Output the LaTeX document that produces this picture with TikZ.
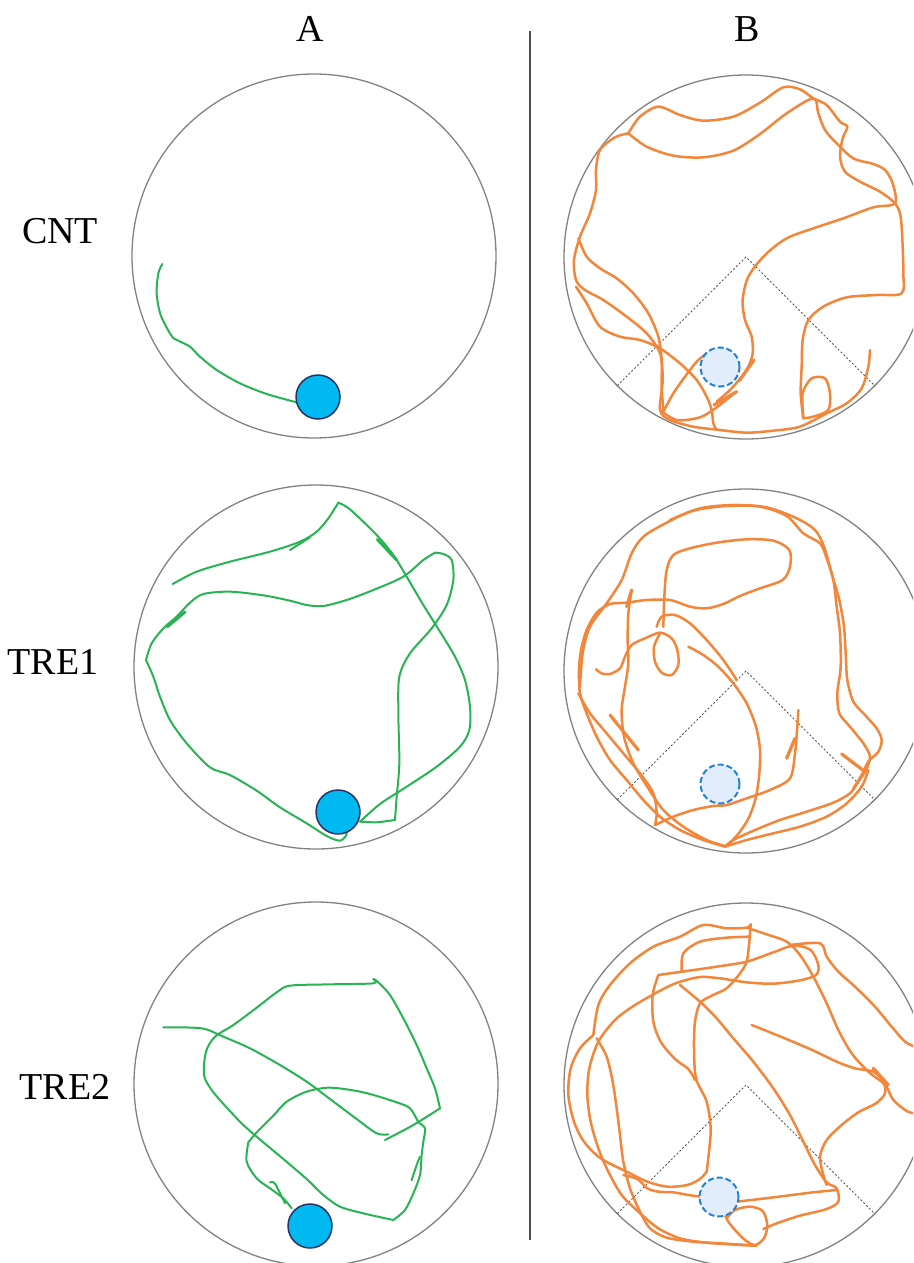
\documentclass[tikz,border=0pt]{standalone}
\usepackage{fontspec}
\setmainfont{Liberation Serif}
\definecolor{trackgreen}{RGB}{40,180,85}
\definecolor{trackorange}{RGB}{242,135,60}
\definecolor{ballblue}{RGB}{0,185,240}
\definecolor{balledge}{RGB}{40,50,100}
\definecolor{goalfill}{RGB}{225,237,250}
\definecolor{goaledge}{RGB}{40,130,210}
\definecolor{arenagray}{RGB}{130,130,130}
\begin{document}
\begin{tikzpicture}[x=1pt,y=-1pt,
  arena/.style={draw=arenagray,line width=1.3pt},
  gtrack/.style={draw=trackgreen,line width=2pt,line cap=round,line join=round},
  otrack/.style={draw=trackorange,line width=2.5pt,line cap=round,line join=round},
  ball/.style={fill=ballblue,draw=balledge,line width=1.5pt},
  goal/.style={fill=goalfill,draw=goaledge,line width=2pt,dash pattern=on 6pt off 3pt},
  quad/.style={draw=black!65,line width=0.9pt,dash pattern=on 2pt off 2pt},
  lbl/.style={font=\fontsize{38}{40}\selectfont,inner sep=0pt}]
\clip (0,0) rectangle (913,1263);
\fill[white] (0,0) rectangle (913,1263);

% labels
\node[lbl] (hA) at (310,29) {A};
\node[lbl] (hB) at (747,29) {B};
\node[lbl] (lCNT) at (60,231) {CNT};
\node[lbl] (lTRE1) at (53,662) {TRE1};
\node[lbl] (lTRE2) at (65,1087) {TRE2};

% separator
\coordinate (sepTop) at (530,31);
\coordinate (sepBot) at (530,1240);
\draw[draw=black!70,line width=1.5pt] (sepTop) -- (sepBot);

% arena centres
\coordinate (a1) at (314,256);
\coordinate (a2) at (316,667);
\coordinate (a3) at (316,1084);
\coordinate (b1) at (746,257);
\coordinate (b2) at (746,671);
\coordinate (b3) at (746,1085);

\foreach \c in {a1,a2,a3,b1,b2,b3} {\draw[arena] (\c) circle (182);}
\foreach \c in {b1,b2,b3} {
  \draw[quad] (\c) ++(135:182) -- (\c) -- ++(45:182);
}

% ---------- A / CNT ----------
\begin{scope}[shift={(130,60)},scale=0.33333]
\draw[gtrack] plot[smooth,tension=0.5] coordinates {(97,612) (85,640) (80,700) (92,765) (125,828) (145,842) (180,860) (210,890) (260,930) (330,970) (410,1002) (500,1027)};
\end{scope}

% ---------- A / TRE1 ----------
\begin{scope}[shift={(130,480)},scale=0.33333]
\draw[gtrack] plot[smooth,tension=0.5] coordinates {(128,312) (200,275) (300,245) (420,215) (510,185) (560,155) (595,115) (625,68)};
\draw[gtrack] plot[smooth,tension=0.5] coordinates {(625,68) (660,88) (740,165) (790,225) (830,290) (880,375) (930,455) (975,530) (1005,600) (1020,680) (1018,750) (990,800) (920,860) (830,920) (750,972) (690,1025)};
\draw[gtrack] plot[smooth,tension=0.3] coordinates {(690,1025) (740,1027) (795,1020)};
\draw[gtrack] plot[smooth,tension=0.5] coordinates {(795,1020) (800,950) (808,850) (805,700) (808,590) (840,520) (905,445) (950,375) (970,300) (965,240) (940,222) (915,218)};
\draw[gtrack] plot[smooth,tension=0.5] coordinates {(915,218) (880,240) (820,290) (730,330) (650,360) (580,378) (530,375) (480,362) (400,346) (300,335) (220,342) (180,368) (140,410) (100,445) (65,490) (48,540)};
\draw[gtrack] plot[smooth,tension=0.5] coordinates {(48,540) (70,590) (90,650) (120,720) (170,790) (240,862) (300,885) (380,932) (450,982) (530,1030) (590,1068) (630,1082) (650,1062) (642,1040)};
\draw[gtrack] (480,210) -- (540,172);
\draw[gtrack,line width=3pt] (742,178) -- (800,240);
\draw[gtrack,line width=3pt] (112,440) -- (165,396);
\end{scope}

% ---------- A / TRE2 ----------
\begin{scope}[shift={(130,895)},scale=0.33333]
\draw[gtrack] plot[smooth,tension=0.5] coordinates {(100,397) (215,400) (280,425) (360,460) (450,510) (530,560) (600,612) (680,672) (740,715) (775,718)};
\draw[gtrack] plot[smooth,tension=0.5] coordinates {(765,735) (850,690) (930,640)};
\draw[gtrack] plot[smooth,tension=0.5] coordinates {(930,640) (915,580) (890,520) (860,450) (820,370) (780,300) (745,262) (730,252)};
\draw[gtrack] plot[smooth,tension=0.5] coordinates {(730,252) (730,265) (600,268) (480,272) (440,292) (380,338) (310,390) (255,425) (228,470) (222,540) (245,585) (285,632) (340,690) (400,742) (460,792) (530,852) (580,900) (630,935) (700,955) (790,975)};
\draw[gtrack] plot[smooth,tension=0.5] coordinates {(790,975) (825,945) (850,895) (870,840) (875,780) (880,740) (885,700) (865,682)};
\draw[gtrack] plot[smooth,tension=0.5] coordinates {(865,682) (840,640) (800,622) (700,592) (600,578) (530,590) (470,620) (430,662) (380,712) (355,742)};
\draw[gtrack] plot[smooth,tension=0.5] coordinates {(355,742) (350,800) (380,850) (420,880) (460,910) (485,940)};
\draw[gtrack] plot[smooth,tension=0.5] coordinates {(845,855) (860,810) (870,785)};
\draw[gtrack] plot[smooth,tension=0.5] coordinates {(420,862) (435,866) (465,925)};
\end{scope}

% balls
\node[ball,circle,minimum size=44pt,inner sep=0pt] (ballA1) at (318,397) {};
\node[ball,circle,minimum size=44pt,inner sep=0pt] (ballA2) at (338,812) {};
\node[ball,circle,minimum size=44pt,inner sep=0pt] (ballA3) at (310,1226) {};

% ---------- B / CNT ----------
\begin{scope}[shift={(560,60)},scale=0.33333]
\draw[otrack] plot[smooth,tension=0.5] coordinates {(205,220) (240,170) (295,140) (360,165) (430,182) (520,170) (600,128) (670,82) (720,88) (760,115) (800,135) (840,185) (862,200) (848,235) (840,290) (855,335) (900,365) (960,395) (1005,430) (1022,470) (1028,560) (1030,640) (1025,700) (950,705) (860,712) (790,740) (745,780) (728,840) (725,920) (722,1000) (730,1075)};
\draw[otrack] plot[smooth,tension=0.5] coordinates {(205,220) (260,260) (340,287) (430,292) (520,272) (600,222) (680,160) (760,115) (775,160) (795,210) (830,250) (880,295) (940,312) (975,330) (998,370) (1005,430) (940,442) (850,475) (760,505) (680,535) (615,585) (565,650) (548,720) (555,780) (575,830) (578,880) (565,920) (545,950) (510,990) (470,1025)};
\draw[otrack] plot[smooth,tension=0.5] coordinates {(205,220) (165,232) (120,270) (108,330) (108,390) (90,460) (60,530) (42,600) (48,660) (75,690) (130,720) (200,770) (260,820) (300,880) (308,960) (300,1050) (330,1080) (400,1100) (480,1110) (560,1118) (640,1112) (720,1100) (800,1060) (860,1030) (905,985) (925,920) (930,870)};
\draw[otrack] plot[smooth,tension=0.5] coordinates {(55,535) (80,590) (120,625) (170,655) (220,700) (265,760) (295,830) (305,900) (305,980) (310,1050)};
\draw[otrack] plot[smooth,tension=0.5] coordinates {(48,680) (80,730) (120,800) (180,830) (240,840) (300,865) (360,910) (410,960) (440,1010) (455,1050) (460,1090) (470,1110)};
\draw[otrack] plot[smooth,tension=0.5] coordinates {(310,1055) (340,1000) (375,950) (410,905) (440,880)};
\draw[otrack] plot[smooth,tension=0.5] coordinates {(300,1050) (350,1080) (420,1072) (470,1042) (520,1002)};
\draw[otrack,line width=3.2pt] (462,1035) -- (530,995);
\draw[otrack,line width=3.2pt] (538,962) -- (582,900);
\draw[otrack] plot[smooth,tension=0.5] coordinates {(730,1075) (728,1000) (755,955) (795,955) (810,1000) (805,1050) (760,1070) (730,1075)};
\end{scope}

% ---------- B / TRE1 ----------
\begin{scope}[shift={(560,480)},scale=0.33333]
\draw[otrack] plot[smooth,tension=0.5] coordinates {(60,620) (68,520) (90,440) (140,370) (185,300) (215,220) (250,170) (320,128) (400,92) (500,78) (600,80) (680,108) (730,160) (780,190) (800,235) (820,300) (830,380) (840,460) (842,560) (832,640) (838,700) (870,740) (910,790) (930,830) (918,870) (895,905) (870,940) (820,968) (740,995) (660,1020) (590,1048) (520,1080) (495,1100)};
\draw[otrack] plot[smooth,tension=0.5] coordinates {(330,120) (420,85) (520,75) (620,82) (710,115) (765,150) (792,200) (815,280) (838,360) (852,440) (857,520) (862,600) (880,665) (915,705) (950,745) (965,780) (955,815) (925,845) (905,885) (880,925)};
\draw[otrack] plot[smooth,tension=0.5] coordinates {(310,440) (313,350) (320,270) (340,225) (390,205) (470,188) (560,178) (640,182) (688,210) (690,260) (668,300) (600,325) (540,348) (490,372) (440,385) (390,380) (330,360) (260,360) (200,368) (150,372) (110,398) (80,450) (63,510) (57,570) (60,640) (80,700) (110,770) (150,840) (200,900) (250,960) (300,1010) (360,1050) (430,1080) (495,1100)};
\draw[otrack] plot[smooth,tension=0.5] coordinates {(300,460) (282,500) (285,545) (305,578) (335,585) (355,555) (352,510) (335,475) (300,458) (255,475) (215,495) (195,530) (180,565) (150,582) (125,580) (108,568)};
\draw[otrack] plot[smooth,tension=0.5] coordinates {(215,330) (205,400) (203,480) (205,550) (195,620) (185,690) (192,770) (220,850) (265,925) (310,990) (370,1040) (440,1080) (495,1098)};
\draw[otrack] plot[smooth,tension=0.5] coordinates {(385,500) (430,525) (475,560) (520,610) (560,670) (588,740) (600,810) (598,880) (588,950) (568,1010) (540,1055) (505,1095)};
\draw[otrack] plot[smooth,tension=0.5] coordinates {(290,440) (305,410) (345,405) (390,430) (440,480) (490,540) (530,600)};
\draw[otrack,line width=3.2pt] (150,705) -- (235,810);
\draw[otrack] plot[smooth,tension=0.5] coordinates {(55,640) (90,700) (140,760) (190,820) (240,880) (280,940) (290,1000) (285,1035)};
\draw[otrack] plot[smooth,tension=0.5] coordinates {(285,1035) (340,1010) (400,990) (460,978) (500,975) (560,955) (630,930) (690,895) (705,820) (712,740) (715,690)};
\draw[otrack,line width=3.2pt] (680,835) -- (705,775);
\draw[otrack] plot[smooth,tension=0.5] coordinates {(495,1100) (560,1080) (640,1060) (720,1040) (800,1010) (860,970) (905,920) (925,870)};
\draw[otrack,line width=3.2pt] (845,822) -- (915,875);
\draw[otrack,line width=3.2pt] (200,380) -- (215,330);
\end{scope}

% ---------- B / TRE2 ----------
\begin{scope}[shift={(560,895)},scale=0.33333]
\draw[otrack] plot[smooth,tension=0.5] coordinates {(100,420) (115,330) (150,270) (210,205) (280,155) (360,125) (430,90) (500,100) (560,98) (572,88)};
\draw[otrack] plot[smooth,tension=0.5] coordinates {(572,88) (568,140) (560,200) (540,235) (500,280) (455,302) (420,325) (405,380) (402,460) (408,550) (440,620) (452,700) (446,780) (440,830)};
\draw[otrack] plot[smooth,tension=0.5] coordinates {(560,98) (620,118) (680,140) (720,180) (760,245) (800,325) (835,405) (875,475) (925,530) (965,560) (980,575) (1000,615) (1040,648) (1065,655)};
\draw[otrack] plot[smooth,tension=0.5] coordinates {(690,150) (780,145) (800,185) (835,230) (885,275) (945,335) (995,395) (1035,440) (1065,455)};
\draw[otrack] plot[smooth,tension=0.5] coordinates {(365,230) (370,175) (420,140) (500,128) (570,125)};
\draw[otrack] plot[smooth,tension=0.5] coordinates {(295,240) (380,228) (470,215) (560,200) (640,172) (700,152) (752,165) (775,210) (768,240) (720,256) (640,266) (560,262) (480,250) (420,246) (355,262) (310,282) (225,330) (165,375) (115,440) (88,520) (82,600) (92,680) (115,760) (145,830) (185,900) (235,950) (295,1000) (360,1030) (430,1042) (510,1048) (580,1052)};
\draw[otrack] plot[smooth,tension=0.5] coordinates {(295,240) (278,300) (280,380) (302,440) (345,492) (385,522) (405,555)};
\draw[otrack] plot[smooth,tension=0.5] coordinates {(360,270) (420,320) (470,370) (520,430) (580,500) (640,580) (690,660) (730,740) (765,810) (800,862) (830,880) (835,920) (800,942) (720,962) (650,985) (610,1002)};
\draw[otrack] plot[smooth,tension=0.5] coordinates {(575,390) (650,420) (750,462) (830,500) (885,520) (940,530) (970,560) (975,595) (948,625) (895,652) (845,690) (800,735) (780,785) (790,840) (800,870)};
\draw[otrack] plot[smooth,tension=0.5] coordinates {(100,420) (60,460) (32,520) (25,600) (42,680) (72,740) (122,790) (200,830) (262,860) (322,875) (382,870) (420,852) (440,830)};
\draw[otrack] plot[smooth,tension=0.5] coordinates {(110,430) (140,485) (158,560) (170,640) (180,720) (190,800) (210,880) (240,950) (270,1000) (320,1028) (400,1040) (480,1045) (560,1050) (590,1052)};
\draw[otrack] plot[smooth,tension=0.5] coordinates {(190,840) (232,852) (262,880) (295,890) (340,892) (385,900) (420,905)};
\draw[otrack] plot[smooth,tension=0.5] coordinates {(500,970) (525,945) (570,935) (608,948) (622,990) (612,1030) (585,1050) (555,1035) (525,1005) (505,980) (495,960)};
\draw[otrack] plot[smooth,tension=0.5] coordinates {(530,920) (600,912) (680,902) (760,892) (830,885)};
\draw[otrack,line width=3.2pt] (940,520) -- (985,570);
\end{scope}

% goals
\node[goal,circle,minimum size=39pt,inner sep=0pt] (goalB1) at (720,367) {};
\node[goal,circle,minimum size=39pt,inner sep=0pt] (goalB2) at (720,784) {};
\node[goal,circle,minimum size=39pt,inner sep=0pt] (goalB3) at (719,1197) {};
\end{tikzpicture}
\end{document}
